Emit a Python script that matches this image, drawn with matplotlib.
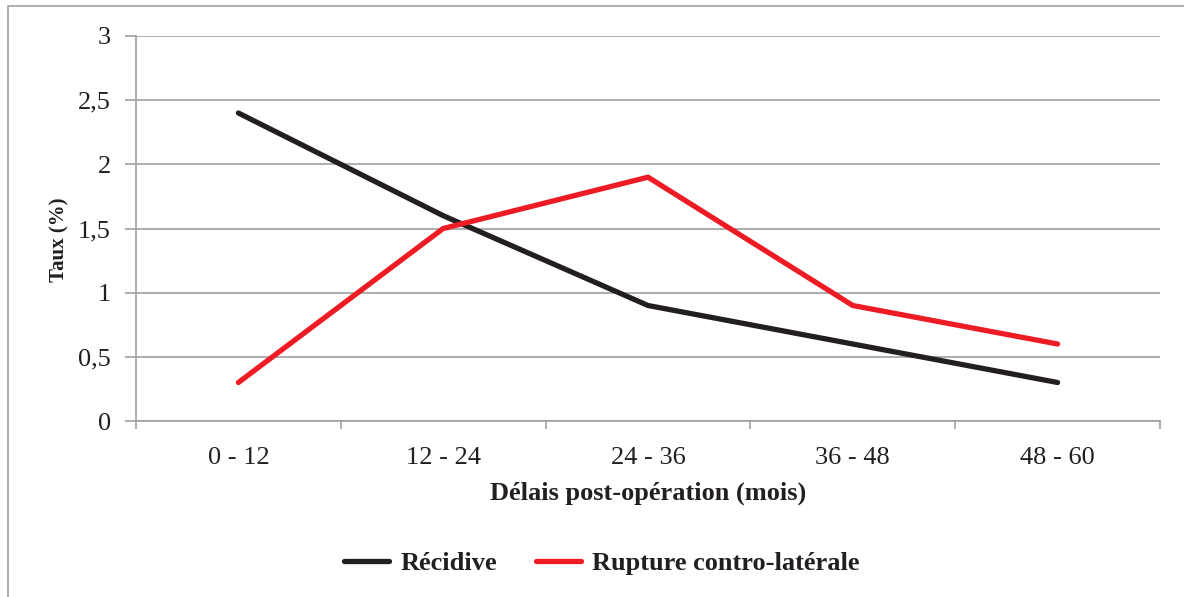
import matplotlib
matplotlib.use("Agg")
import matplotlib.pyplot as plt
from matplotlib.patches import Rectangle

categories = ["0 - 12", "12 - 24", "24 - 36", "36 - 48", "48 - 60"]
recidive = [2.4, 1.6, 0.9, 0.6, 0.3]
rupture = [0.3, 1.5, 1.9, 0.9, 0.6]
yticks = [0, 0.5, 1, 1.5, 2, 2.5, 3]
ytick_labels = ["0", "0,5", "1", "1,5", "2", "2,5", "3"]

plt.rcParams['font.family'] = ['Liberation Serif', 'DejaVu Serif']
grey = '#A0A0A0'
dark = '#231F20'

fig = plt.figure(figsize=(11.84, 5.97), dpi=100)
fig.patches.append(Rectangle((8 / 1184, -0.1), 1.2, 1 - 6 / 597 + 0.1,
                             transform=fig.transFigure, fill=False,
                             edgecolor=grey, linewidth=1.2))
ax = fig.add_axes([136 / 1184, 1 - 421 / 597, 1024 / 1184, 385 / 597])

x = list(range(len(categories)))
ax.plot(x, recidive, color=dark, linewidth=3.8, solid_capstyle='round', label="Récidive")
ax.plot(x, rupture, color='#ED1C24', linewidth=3.8, solid_capstyle='round', label="Rupture contro-latérale")

ax.set_xlim(-0.5, 4.5)
ax.set_ylim(0, 3)
ax.set_yticks(yticks)
ax.set_yticklabels(ytick_labels, fontsize=19)
ax.set_xticks(x)
ax.set_xticklabels(categories, fontsize=19)
ax.set_xticks([-0.5, 0.5, 1.5, 2.5, 3.5, 4.5], minor=True)
ax.tick_params(axis='x', which='major', length=0, pad=19, colors=dark)
ax.tick_params(axis='x', which='minor', length=6, width=1.2, color=grey)
ax.tick_params(axis='y', length=8, width=1.2, color=grey, pad=10, labelcolor=dark)
ax.yaxis.grid(True, color=grey, linewidth=1.2)
ax.set_axisbelow(True)
for s in ['top', 'right']:
    ax.spines[s].set_visible(False)
for s in ['left', 'bottom']:
    ax.spines[s].set_color(grey)
    ax.spines[s].set_linewidth(1.2)

ax.set_xlabel("Délais post-opération (mois)", fontsize=19, fontweight='bold', labelpad=9, color=dark)
ax.set_ylabel("Taux (%)", fontsize=15, fontweight='bold', labelpad=6, color=dark)
ax.yaxis.label.set_y(0.47)

leg = fig.legend(loc='center', bbox_to_anchor=(602 / 1184, 1 - 563 / 597), ncol=2, frameon=False,
                 prop={'size': 19, 'weight': 'bold'}, handlelength=1.7, handletextpad=0.45,
                 columnspacing=1.45)
for t in leg.get_texts():
    t.set_color(dark)

fig.savefig("out.png", dpi=100)
